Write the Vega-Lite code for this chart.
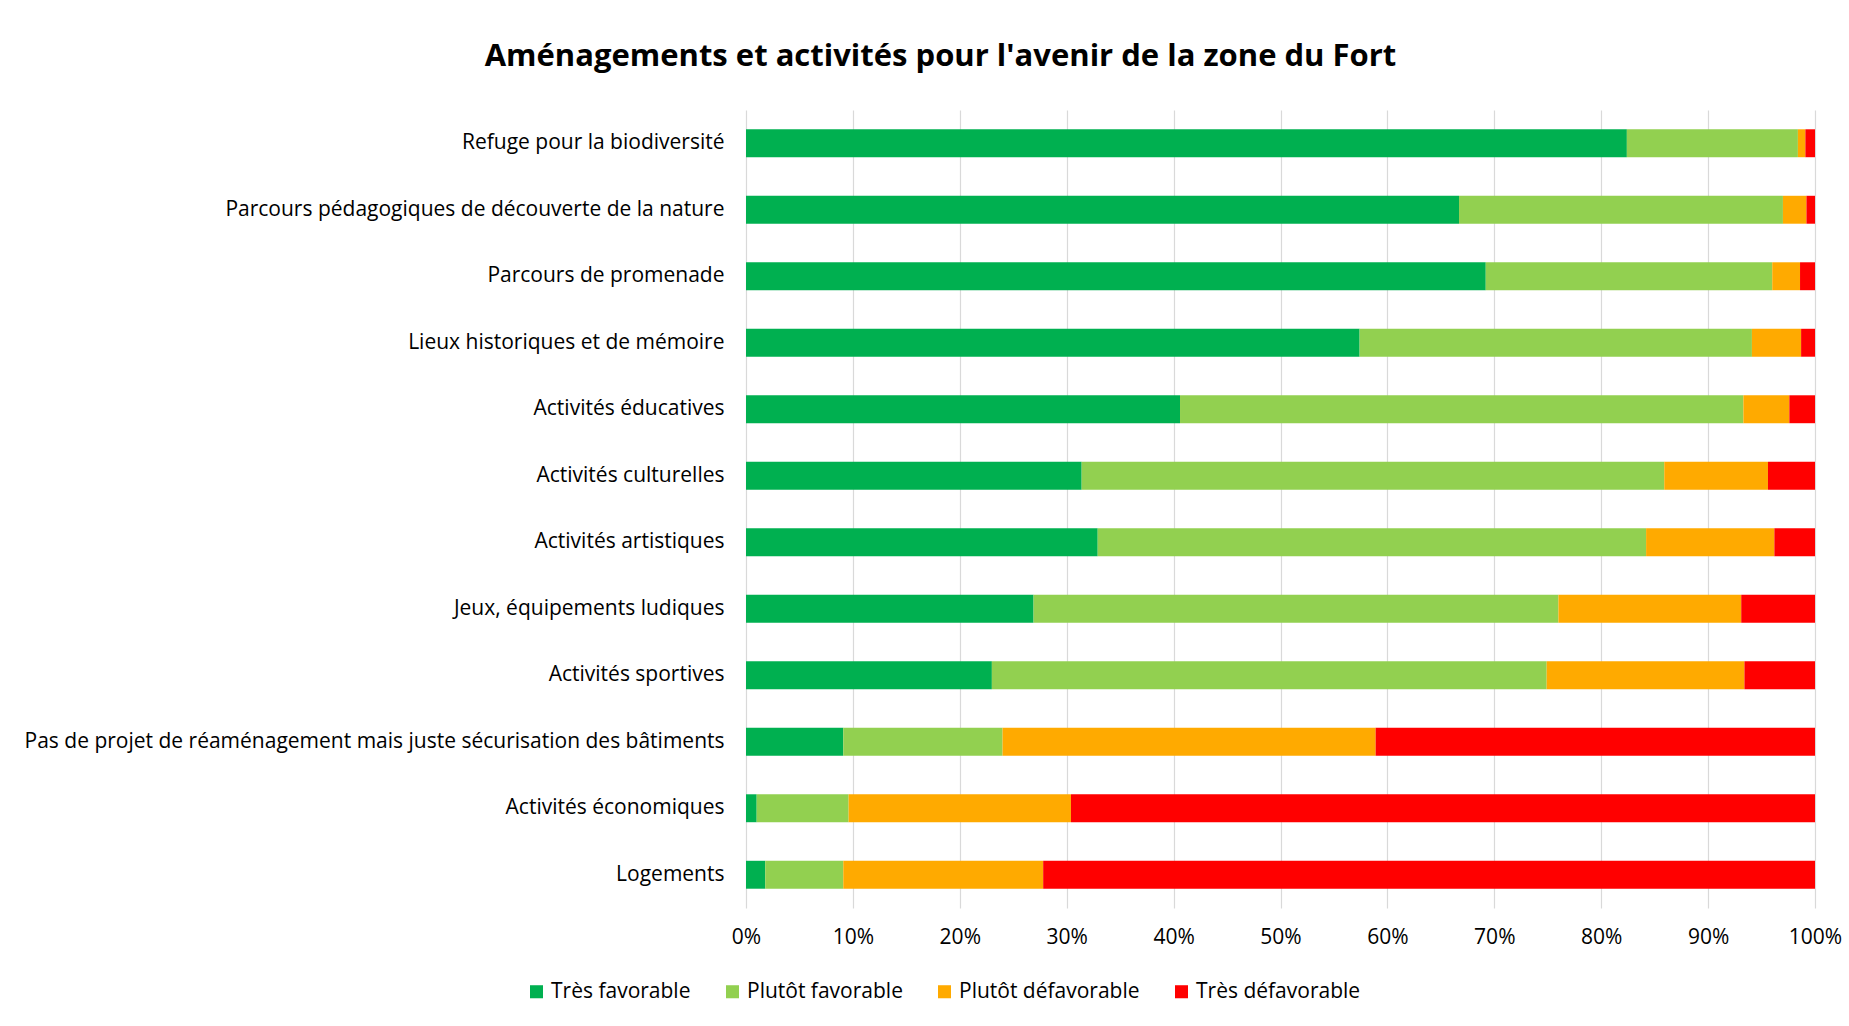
{
  "$schema": "https://vega.github.io/schema/vega-lite/v6.json",
  "autosize": {"type": "none"},
  "width": 1069,
  "height": 798,
  "padding": {"left": 746, "top": 110, "right": 34, "bottom": 118},
  "background": "white",
  "title": {
    "text": "Aménagements et activités pour l'avenir de la zone du Fort",
    "font": "Open Sans",
    "fontSize": 31,
    "fontWeight": "bold",
    "color": "#000000",
    "anchor": "middle",
    "baseline": "alphabetic",
    "dx": -340,
    "dy": 31,
    "offset": 44
  },
  "data": {
    "values": [
      {"item": "Refuge pour la biodiversité", "reponse": "Très favorable", "rang": 1, "pct": 82.4},
      {"item": "Refuge pour la biodiversité", "reponse": "Plutôt favorable", "rang": 2, "pct": 16.0},
      {"item": "Refuge pour la biodiversité", "reponse": "Plutôt défavorable", "rang": 3, "pct": 0.7},
      {"item": "Refuge pour la biodiversité", "reponse": "Très défavorable", "rang": 4, "pct": 0.9},
      {"item": "Parcours pédagogiques de découverte de la nature", "reponse": "Très favorable", "rang": 1, "pct": 66.7},
      {"item": "Parcours pédagogiques de découverte de la nature", "reponse": "Plutôt favorable", "rang": 2, "pct": 30.3},
      {"item": "Parcours pédagogiques de découverte de la nature", "reponse": "Plutôt défavorable", "rang": 3, "pct": 2.2},
      {"item": "Parcours pédagogiques de découverte de la nature", "reponse": "Très défavorable", "rang": 4, "pct": 0.8},
      {"item": "Parcours de promenade", "reponse": "Très favorable", "rang": 1, "pct": 69.2},
      {"item": "Parcours de promenade", "reponse": "Plutôt favorable", "rang": 2, "pct": 26.8},
      {"item": "Parcours de promenade", "reponse": "Plutôt défavorable", "rang": 3, "pct": 2.6},
      {"item": "Parcours de promenade", "reponse": "Très défavorable", "rang": 4, "pct": 1.4},
      {"item": "Lieux historiques et de mémoire", "reponse": "Très favorable", "rang": 1, "pct": 57.4},
      {"item": "Lieux historiques et de mémoire", "reponse": "Plutôt favorable", "rang": 2, "pct": 36.7},
      {"item": "Lieux historiques et de mémoire", "reponse": "Plutôt défavorable", "rang": 3, "pct": 4.6},
      {"item": "Lieux historiques et de mémoire", "reponse": "Très défavorable", "rang": 4, "pct": 1.3},
      {"item": "Activités éducatives", "reponse": "Très favorable", "rang": 1, "pct": 40.6},
      {"item": "Activités éducatives", "reponse": "Plutôt favorable", "rang": 2, "pct": 52.7},
      {"item": "Activités éducatives", "reponse": "Plutôt défavorable", "rang": 3, "pct": 4.3},
      {"item": "Activités éducatives", "reponse": "Très défavorable", "rang": 4, "pct": 2.4},
      {"item": "Activités culturelles", "reponse": "Très favorable", "rang": 1, "pct": 31.4},
      {"item": "Activités culturelles", "reponse": "Plutôt favorable", "rang": 2, "pct": 54.5},
      {"item": "Activités culturelles", "reponse": "Plutôt défavorable", "rang": 3, "pct": 9.7},
      {"item": "Activités culturelles", "reponse": "Très défavorable", "rang": 4, "pct": 4.4},
      {"item": "Activités artistiques", "reponse": "Très favorable", "rang": 1, "pct": 32.9},
      {"item": "Activités artistiques", "reponse": "Plutôt favorable", "rang": 2, "pct": 51.3},
      {"item": "Activités artistiques", "reponse": "Plutôt défavorable", "rang": 3, "pct": 12.0},
      {"item": "Activités artistiques", "reponse": "Très défavorable", "rang": 4, "pct": 3.8},
      {"item": "Jeux, équipements ludiques", "reponse": "Très favorable", "rang": 1, "pct": 26.9},
      {"item": "Jeux, équipements ludiques", "reponse": "Plutôt favorable", "rang": 2, "pct": 49.1},
      {"item": "Jeux, équipements ludiques", "reponse": "Plutôt défavorable", "rang": 3, "pct": 17.1},
      {"item": "Jeux, équipements ludiques", "reponse": "Très défavorable", "rang": 4, "pct": 6.9},
      {"item": "Activités sportives", "reponse": "Très favorable", "rang": 1, "pct": 23.0},
      {"item": "Activités sportives", "reponse": "Plutôt favorable", "rang": 2, "pct": 51.9},
      {"item": "Activités sportives", "reponse": "Plutôt défavorable", "rang": 3, "pct": 18.5},
      {"item": "Activités sportives", "reponse": "Très défavorable", "rang": 4, "pct": 6.6},
      {"item": "Pas de projet de réaménagement mais juste sécurisation des bâtiments", "reponse": "Très favorable", "rang": 1, "pct": 9.1},
      {"item": "Pas de projet de réaménagement mais juste sécurisation des bâtiments", "reponse": "Plutôt favorable", "rang": 2, "pct": 14.9},
      {"item": "Pas de projet de réaménagement mais juste sécurisation des bâtiments", "reponse": "Plutôt défavorable", "rang": 3, "pct": 34.9},
      {"item": "Pas de projet de réaménagement mais juste sécurisation des bâtiments", "reponse": "Très défavorable", "rang": 4, "pct": 41.1},
      {"item": "Activités économiques", "reponse": "Très favorable", "rang": 1, "pct": 1.0},
      {"item": "Activités économiques", "reponse": "Plutôt favorable", "rang": 2, "pct": 8.6},
      {"item": "Activités économiques", "reponse": "Plutôt défavorable", "rang": 3, "pct": 20.8},
      {"item": "Activités économiques", "reponse": "Très défavorable", "rang": 4, "pct": 69.6},
      {"item": "Logements", "reponse": "Très favorable", "rang": 1, "pct": 1.8},
      {"item": "Logements", "reponse": "Plutôt favorable", "rang": 2, "pct": 7.3},
      {"item": "Logements", "reponse": "Plutôt défavorable", "rang": 3, "pct": 18.7},
      {"item": "Logements", "reponse": "Très défavorable", "rang": 4, "pct": 72.2}
    ]
  },
  "mark": {"type": "bar"},
  "encoding": {
    "y": {
      "field": "item",
      "type": "nominal",
      "sort": null,
      "scale": {"paddingInner": 0.58, "paddingOuter": 0.29},
      "axis": {
        "title": null,
        "ticks": false,
        "domain": false,
        "grid": false,
        "labelFont": "Open Sans",
        "labelFontSize": 21,
        "labelColor": "#000000",
        "labelPadding": 22,
        "labelLimit": 900
      }
    },
    "x": {
      "field": "pct",
      "type": "quantitative",
      "stack": "normalize",
      "scale": {"domain": [0, 1], "nice": false},
      "axis": {
        "title": null,
        "format": ".0%",
        "values": [0, 0.1, 0.2, 0.3, 0.4, 0.5, 0.6, 0.7, 0.8, 0.9, 1],
        "ticks": false,
        "domain": false,
        "grid": true,
        "gridColor": "#d9d9d9",
        "gridWidth": 1.2,
        "labelFlush": false,
        "labelFont": "Open Sans",
        "labelFontSize": 21,
        "labelColor": "#000000",
        "labelPadding": 18
      }
    },
    "color": {
      "field": "reponse",
      "type": "nominal",
      "scale": {
        "domain": ["Très favorable", "Plutôt favorable", "Plutôt défavorable", "Très défavorable"],
        "range": ["#00B050", "#92D050", "#FFAA00", "#FF0000"]
      },
      "legend": {
        "title": null,
        "orient": "none",
        "direction": "horizontal",
        "legendX": -220,
        "legendY": 871,
        "symbolType": "square",
        "symbolSize": 170,
        "symbolStrokeWidth": 0,
        "labelFont": "Open Sans",
        "labelFontSize": 21,
        "labelColor": "#000000",
        "labelOffset": 4,
        "columnPadding": 31,
        "labelLimit": 400
      }
    },
    "order": {"field": "rang", "type": "quantitative"}
  },
  "config": {
    "view": {"stroke": null}
  }
}
